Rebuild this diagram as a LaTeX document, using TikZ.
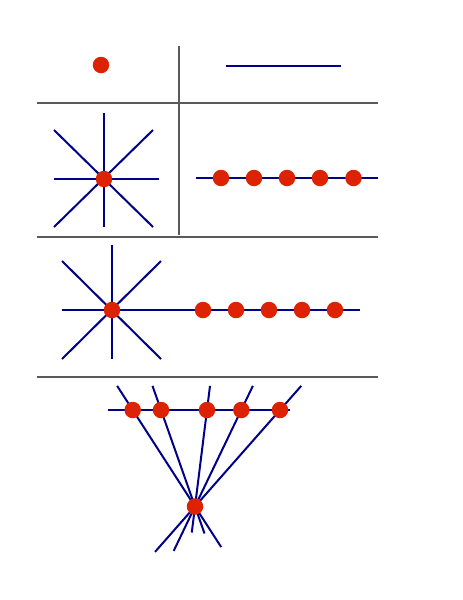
\documentclass[tikz,border=0pt]{standalone}
\usetikzlibrary{calc,backgrounds}
\definecolor{dotred}{HTML}{DD2200}
\definecolor{linkblue}{HTML}{000088}
\definecolor{sepgray}{HTML}{5A5A5A}
\begin{document}
\begin{tikzpicture}[x=1pt,y=-1pt,
  dot/.style={circle,fill=dotred,draw=none,minimum size=16.5pt,inner sep=0pt},
  link/.style={draw=linkblue,line width=2pt},
  sep/.style={draw=sepgray,line width=1.1pt}]
\useasboundingbox (0,0) rectangle (463,600);
% separators
\coordinate (h1l) at (37,103); \coordinate (h1r) at (378,103);
\coordinate (h2l) at (37,237); \coordinate (h2r) at (378,237);
\coordinate (h3l) at (37,377); \coordinate (h3r) at (378,377);
\coordinate (vt) at (179,46); \coordinate (vb) at (179,235);
\draw[sep] (h1l) -- (h1r);
\draw[sep] (h2l) -- (h2r);
\draw[sep] (h3l) -- (h3r);
\draw[sep] (vt) -- (vb);
% panel 1
\node[dot] (d0) at (101,65) {};
\coordinate (l0a) at (226,66); \coordinate (l0b) at (341,66);
\draw[link] (l0a) -- (l0b);
% panel 2: star
\node[dot] (s1) at (104,179) {};
\coordinate (s1n) at (104,113); \coordinate (s1s) at (104,227);
\coordinate (s1w) at (54,179); \coordinate (s1e) at (159,179);
\coordinate (s1nw) at (54,130); \coordinate (s1se) at (153,227);
\coordinate (s1ne) at (153,130); \coordinate (s1sw) at (54,227);
% panel 3: chain
\coordinate (c1w) at (196,178); \coordinate (c1e) at (378,178);
\foreach \i/\x in {1/221,2/254,3/287,4/320,5/353.5}
  \node[dot] (c\i) at (\x,178) {};
% panel 4: star + chain
\node[dot] (s2) at (112,310) {};
\coordinate (s2n) at (111.5,245); \coordinate (s2s) at (111.5,359);
\coordinate (s2w) at (62,310); \coordinate (s2e) at (360,310);
\coordinate (s2nw) at (62,261); \coordinate (s2se) at (161,359);
\coordinate (s2ne) at (161,261); \coordinate (s2sw) at (62,359);
\foreach \i/\x in {1/203,2/236,3/269,4/302,5/335}
  \node[dot] (e\i) at (\x,310) {};
% panel 5: fan
\node[dot] (P) at (195,506.5) {};
\coordinate (fw) at (108,410); \coordinate (fe) at (290,410);
\foreach \i/\x in {1/132.7,2/161,3/207,4/241.3,5/280}
  \node[dot] (a\i) at (\x,410) {};
\begin{scope}[on background layer]
  \draw[link] (s1n) -- (s1s);
  \draw[link] (s1w) -- (s1e);
  \draw[link] (s1nw) -- (s1se);
  \draw[link] (s1ne) -- (s1sw);
  \draw[link] (c1w) -- (c1e);
  \draw[link] (s2n) -- (s2s);
  \draw[link] (s2w) -- (s2e);
  \draw[link] (s2nw) -- (s2se);
  \draw[link] (s2ne) -- (s2sw);
  \draw[link] (fw) -- (fe);
  \draw[link] ($(P)!1.25!(a1)$) -- ($(a1)!1.42!(P)$);
  \draw[link] ($(P)!1.25!(a2)$) -- ($(a2)!1.28!(P)$);
  \draw[link] ($(P)!1.25!(a3)$) -- ($(a3)!1.27!(P)$);
  \draw[link] ($(P)!1.25!(a4)$) -- ($(a4)!1.46!(P)$);
  \draw[link] ($(P)!1.25!(a5)$) -- ($(a5)!1.47!(P)$);
\end{scope}
\end{tikzpicture}
\end{document}
